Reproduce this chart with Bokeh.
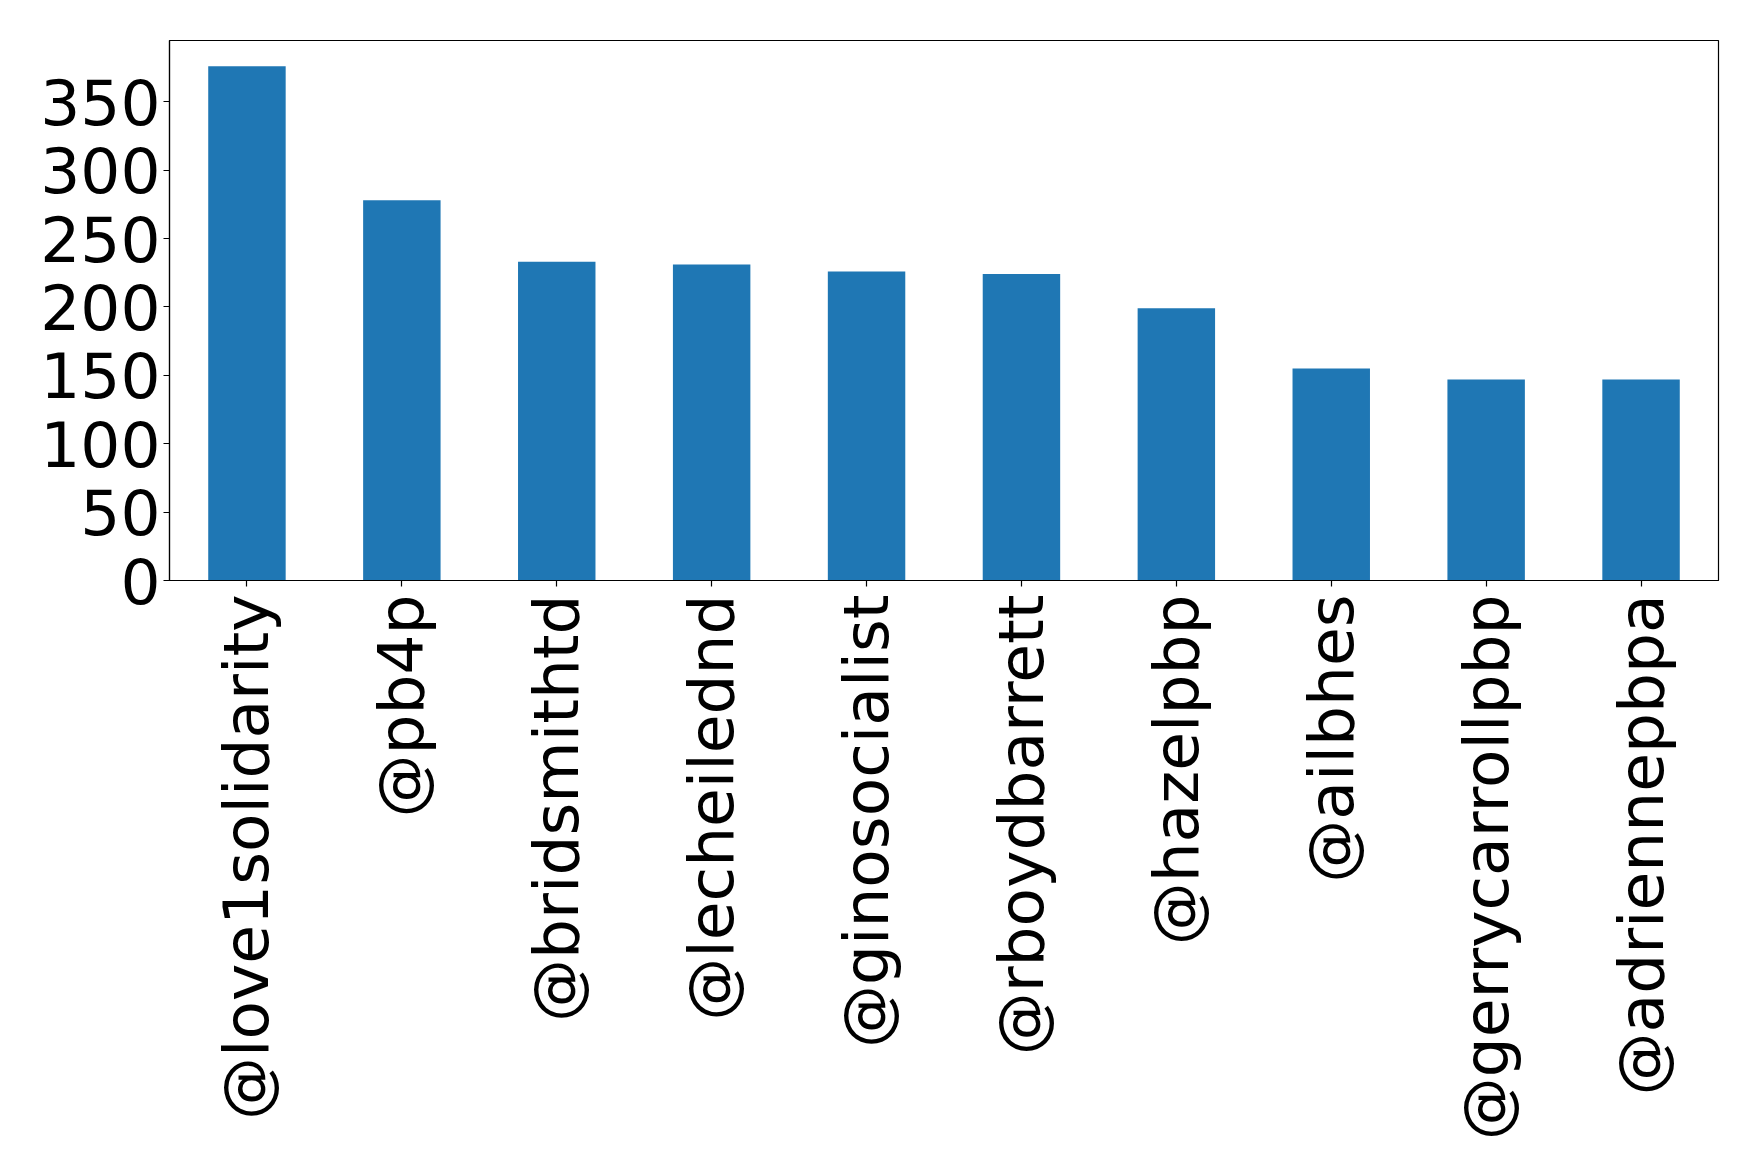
import math

from bokeh.plotting import figure
from bokeh.models import Range1d, FactorRange, FixedTicker
from bokeh.embed import file_html
from bokeh.resources import INLINE

# Top accounts by count
accounts = [
    "@love1solidarity", "@pb4p", "@bridsmithtd", "@lecheilednd", "@ginosocialist",
    "@rboydbarrett", "@hazelpbp", "@ailbhes", "@gerrycarrollpbp", "@adriennepbpa",
]
counts = [376, 278, 233, 231, 226, 224, 199, 155, 147, 147]
y_ticks = [0, 50, 100, 150, 200, 250, 300, 350]

FONT = "DejaVu Sans"
FONT_SIZE = "63px"

p = figure(
    width=1759, height=1170,
    x_range=FactorRange(*accounts, range_padding=0),
    y_range=Range1d(0, max(counts) * 1.05),
    output_backend="svg", toolbar_location=None,
    min_border_left=169, min_border_right=41,
    min_border_top=40, min_border_bottom=590,
)

p.vbar(x=accounts, top=counts, width=0.5, color="#1f77b4", line_color=None)

p.xgrid.visible = False
p.ygrid.visible = False
p.outline_line_color = "black"
p.outline_line_width = 1.2
p.outline_line_alpha = 1
p.background_fill_color = "white"
p.border_fill_color = "white"

for ax in (p.xaxis, p.yaxis):
    ax.axis_line_color = "black"
    ax.axis_line_width = 1.2
    ax.major_tick_line_color = "black"
    ax.major_tick_line_width = 1.2
    ax.major_tick_out = 6
    ax.major_tick_in = 0
    ax.minor_tick_line_color = None
    ax.major_label_text_font = FONT
    ax.major_label_text_font_size = FONT_SIZE
    ax.major_label_text_color = "black"

p.xaxis.major_label_standoff = 8
p.yaxis.major_label_standoff = 3
p.yaxis.ticker = FixedTicker(ticks=y_ticks)
# labels read upwards, ending at the axis
p.xaxis.major_label_orientation = math.pi / 2

open("out.html", "w").write(file_html(p, INLINE))
